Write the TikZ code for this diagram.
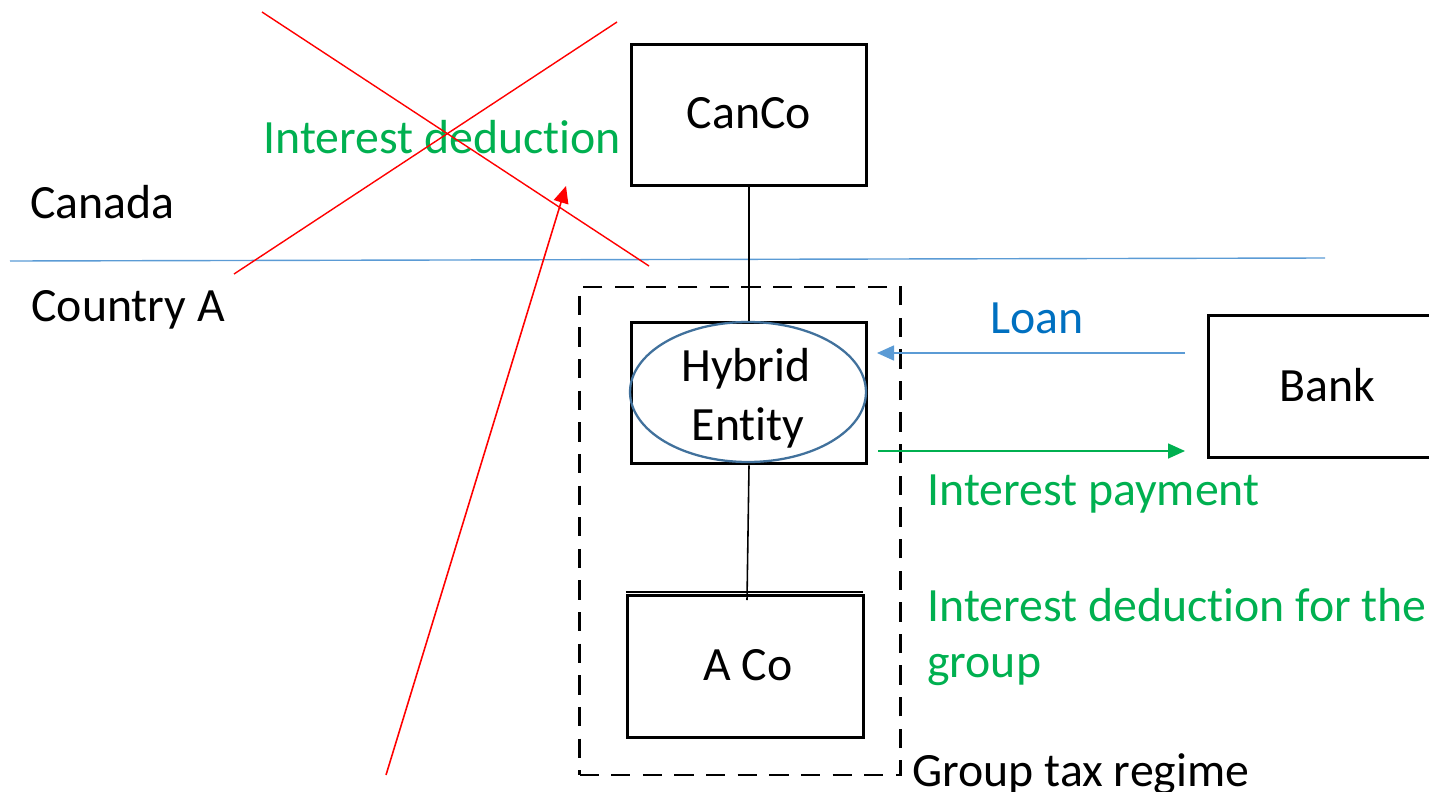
\documentclass[tikz,border=0pt]{standalone}
\usepackage{fontspec}
\setmainfont[Ligatures=NoCommon,RawFeature={-liga;-calt;-dlig}]{Carlito}
\usetikzlibrary{shapes.geometric,arrows.meta}
\definecolor{txtgreen}{HTML}{00B050}
\definecolor{txtblue}{HTML}{0070C0}
\definecolor{lineblue}{HTML}{5B9BD5}
\definecolor{ellblue}{HTML}{41719C}
% "ti" kept as two separate letters
\newcommand\tsep{t\kern0pt i}
\tikzset{
  lbl/.style={font=\fontsize{27.2}{32}\selectfont, inner sep=0pt, anchor=base west},
  entity/.style={draw=black, line width=1.7pt, minimum width=4.72cm, minimum height=2.84cm,
    font=\fontsize{27.2}{32}\selectfont, inner sep=0pt},
  thin/.style={line width=0.9pt},
  redline/.style={draw=red, line width=0.8pt},
}
\begin{document}
\begin{tikzpicture}[x=0.02cm,y=-0.02cm]
\useasboundingbox (0,0) rectangle (1429,791);

% border between the two countries
\coordinate (bl) at (10,261);
\coordinate (br) at (1325,258);
\draw[lineblue, line width=0.8pt] (bl) -- (br);

% entities
\node[entity] (canco) at (749,115) {};
\node[lbl, anchor=base] (cancot) at (749,128) {CanCo};
\node[entity] (hybrid) at (749,393) {};
\node[draw=ellblue, line width=1.3pt, ellipse, minimum width=4.72cm, minimum height=2.8cm,
  inner sep=0pt] (ell) at (748,392) {};
\node[lbl, anchor=base] (hyb1) at (746,381) {Hybrid};
\node[lbl, anchor=base] (hyb2) at (748,440) {En\tsep ty};
\node[entity] (aco) at (745.5,666.5) {};
\node[lbl, anchor=base] (acot) at (748,680) {A Co};
\draw[line width=1.1pt] (aco.north west) ++(0,-2) -- ++(237,0);
\node[entity] (bank) at (1326,386.5) {};
\node[lbl, anchor=base] (bankt) at (1327,401) {Bank};

% group tax regime boundary
\node[draw=black, dashed, line width=1.4pt, dash pattern=on 11pt off 7pt,
  minimum width=6.42cm, minimum height=9.76cm, inner sep=0pt] (group) at (740,531) {};

% ownership links
\draw[thin] (canco.south) -- (hybrid.north);
\coordinate (acotop) at (747,600);
\draw[thin] (hybrid.south) -- (acotop);

% loan and interest flows
\coordinate (loanS) at (1185,353);
\coordinate (loanE) at (877,353);
\draw[lineblue, line width=0.9pt, -{Triangle[length=0.34cm,width=0.3cm]}] (loanS) -- (loanE);
\coordinate (payS) at (878,451);
\coordinate (payE) at (1185,451);
\draw[txtgreen, line width=0.9pt, -{Triangle[length=0.34cm,width=0.3cm]}] (payS) -- (payE);

% labels
\node[lbl] (canada) at (30,218) {Canada};
\node[lbl] (ctrya) at (31,321) {Country A};
\node[lbl, text=txtgreen] (intded) at (263,153) {Interest deduc\tsep on};
\node[lbl, text=txtblue] (loan) at (990,333) {Loan};
\node[lbl, text=txtgreen] (intpay) at (927,505) {Interest payment};
\node[lbl, text=txtgreen] (grpded) at (927,621) {Interest deduc\tsep on for the};
\node[lbl, text=txtgreen] (grpded2) at (927,677) {group};
\node[lbl] (gtr) at (912,786) {Group tax regime};

% crossed-out deduction in Canada
\coordinate (x1a) at (262,12);
\coordinate (x1b) at (649,266);
\coordinate (x2a) at (617,22);
\coordinate (x2b) at (234,274);
\draw[redline] (x1a) -- (x1b);
\draw[redline] (x2a) -- (x2b);
\coordinate (ra) at (386,775);
\coordinate (rb) at (566,186);
\draw[redline, line width=0.9pt, -{Triangle[length=0.34cm,width=0.3cm]}] (ra) -- (rb);
\end{tikzpicture}
\end{document}
